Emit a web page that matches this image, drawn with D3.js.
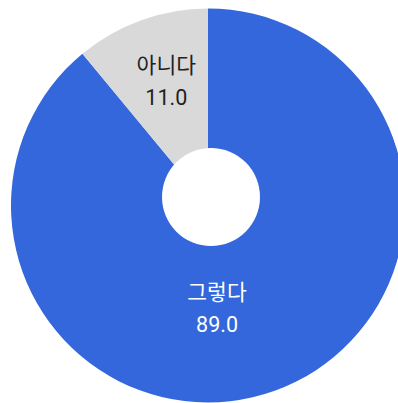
<!DOCTYPE html>
<html>
<head>
<meta charset="utf-8">
<script src="https://cdn.jsdelivr.net/npm/d3@7"></script>
<style>
  html, body { margin: 0; padding: 0; background: #fff; overflow: hidden; }
  svg { display: block; }
  text { font-family: Roboto, "Noto Sans CJK KR", sans-serif; }
</style>
</head>
<body>
<svg id="chart" width="398" height="403"></svg>
<script>
// Survey answers and their shares (%)
const categories = ["그렇다", "아니다"];
const values = [89.0, 11.0];
const colors = ["#3367db", "#d9d9d9"];
const labelColors = ["#ffffff", "#222222"];

const width = 398, height = 403;
const cx = 208, cy = 205.5, outerR = 197;
const holeCx = 211, holeCy = 197, holeR = 49;

const svg = d3.select("#chart");

const data = categories.map((c, i) => ({ name: c, value: values[i], i }));

const pie = d3.pie().sort(null).value(d => d.value);
const arcs = pie(data);
const arc = d3.arc().innerRadius(0).outerRadius(outerR);

const g = svg.append("g").attr("transform", `translate(${cx},${cy})`);

g.selectAll("path.slice")
  .data(arcs)
  .join("path")
  .attr("class", "slice")
  .attr("d", arc)
  .attr("fill", d => colors[d.data.i]);

// centre hole
svg.append("circle")
  .attr("cx", holeCx)
  .attr("cy", holeCy)
  .attr("r", holeR)
  .attr("fill", "#fff");

// label anchors: small slice at its centroid, main slice below the hole
const labelArc = d3.arc().innerRadius(132).outerRadius(132);
function anchor(d) {
  if (d.data.value < 50) {
    const [x, y] = labelArc.centroid(d);
    return [x + 3, y];
  }
  return [9, 102];
}

const labels = g.selectAll("g.label")
  .data(arcs)
  .join("g")
  .attr("class", "label")
  .attr("transform", d => { const [x, y] = anchor(d); return `translate(${x},${y})`; })
  .attr("fill", d => labelColors[d.data.i])
  .attr("text-anchor", "middle")
  .style("font-size", "21.5px");

labels.append("text")
  .attr("y", -8)
  .text(d => d.data.name);

labels.append("text")
  .attr("y", 24)
  .text(d => d3.format(".1f")(d.data.value));
</script>
</body>
</html>
